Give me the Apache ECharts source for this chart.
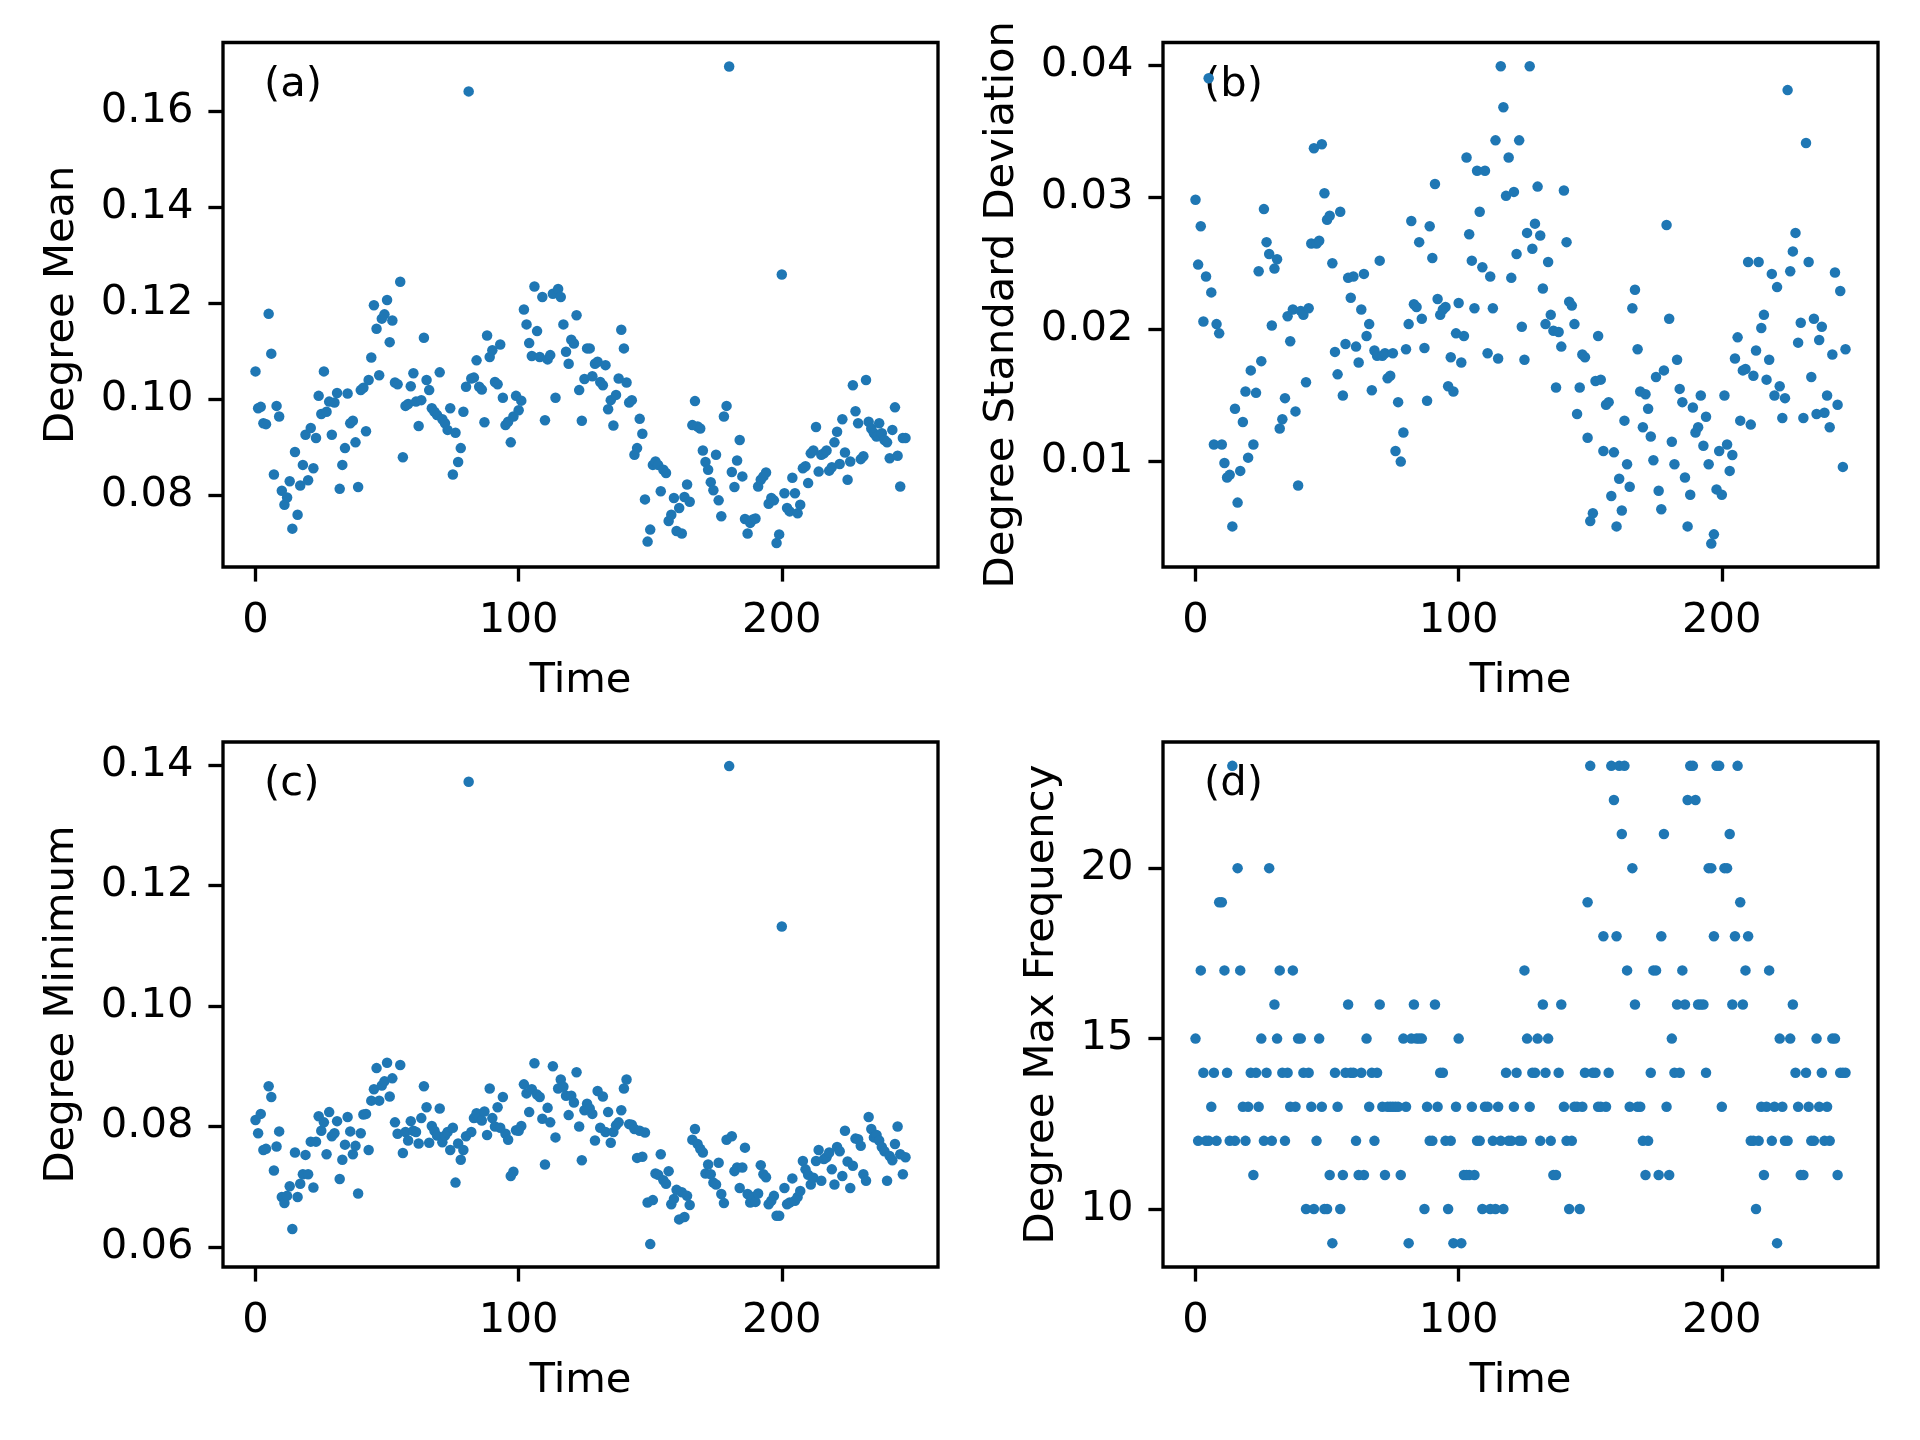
<!DOCTYPE html>
<html>
<head>
<meta charset="utf-8">
<title>Degree statistics over time</title>
<script src="https://cdn.jsdelivr.net/npm/echarts@6/dist/echarts.min.js"></script>
<style>
  html, body { margin: 0; padding: 0; background: #fff; }
  #chart { width: 1920px; height: 1440px; }
</style>
</head>
<body>
<div id="chart"></div>
<script>
// one value per time step, t = 0 .. 247
const degreeMean = [
  0.1058, 0.0981, 0.0984, 0.0950, 0.0948, 0.1178, 0.1095, 0.0843, 0.0986, 0.0964,
  0.0809, 0.0780, 0.0795, 0.0829, 0.0730, 0.0890, 0.0759, 0.0820, 0.0863, 0.0926,
  0.0831, 0.0940, 0.0856, 0.0919, 0.1007, 0.0969, 0.1058, 0.0974, 0.0995, 0.0926,
  0.0993, 0.1013, 0.0813, 0.0863, 0.0898, 0.1012, 0.0950, 0.0955, 0.0910, 0.0817,
  0.1019, 0.1024, 0.0933, 0.1040, 0.1087, 0.1196, 0.1147, 0.1050, 0.1168, 0.1177,
  0.1207, 0.1119, 0.1164, 0.1035, 0.1031, 0.1245, 0.0879, 0.0986, 0.0990, 0.1027,
  0.1054, 0.0995, 0.0944, 0.0998, 0.1128, 0.1040, 0.1019, 0.0981, 0.0974, 0.0967,
  0.1056, 0.0958, 0.0950, 0.0936, 0.0981, 0.0843, 0.0930, 0.0869, 0.0898, 0.0974,
  0.1026, 0.1642, 0.1043, 0.1045, 0.1081, 0.1026, 0.1020, 0.0952, 0.1133, 0.1088,
  0.1102, 0.1036, 0.1031, 0.1114, 0.1003, 0.0946, 0.0953, 0.0910, 0.0964, 0.1007,
  0.0977, 0.0997, 0.1187, 0.1156, 0.1117, 0.1090, 0.1235, 0.1142, 0.1088, 0.1213,
  0.0956, 0.1083, 0.1092, 0.1220, 0.1003, 0.1230, 0.1213, 0.1156, 0.1099, 0.1074,
  0.1124, 0.1116, 0.1175, 0.1019, 0.0955, 0.1042, 0.1106, 0.1106, 0.1048, 0.1074,
  0.1078, 0.1036, 0.1029, 0.1071, 0.0979, 0.0998, 0.0945, 0.1009, 0.1043, 0.1145,
  0.1106, 0.1035, 0.0993, 0.0998, 0.0884, 0.0898, 0.0959, 0.0928, 0.0791, 0.0703,
  0.0728, 0.0863, 0.0870, 0.0863, 0.0808, 0.0853, 0.0846, 0.0746, 0.0759, 0.0794,
  0.0725, 0.0773, 0.0720, 0.0796, 0.0822, 0.0786, 0.0946, 0.0996, 0.0943, 0.0939,
  0.0893, 0.0869, 0.0853, 0.0827, 0.0810, 0.0884, 0.0789, 0.0756, 0.0964, 0.0986,
  0.1694, 0.0848, 0.0817, 0.0872, 0.0915, 0.0839, 0.0750, 0.0720, 0.0742, 0.0749,
  0.0751, 0.0818, 0.0832, 0.0839, 0.0847, 0.0782, 0.0794, 0.0789, 0.0700, 0.0718,
  0.1260, 0.0804, 0.0773, 0.0766, 0.0836, 0.0804, 0.0762, 0.0780, 0.0856, 0.0860,
  0.0825, 0.0887, 0.0893, 0.0942, 0.0849, 0.0884, 0.0887, 0.0893, 0.0851, 0.0858,
  0.0910, 0.0932, 0.0865, 0.0958, 0.0889, 0.0832, 0.0870, 0.1029, 0.0975, 0.0950,
  0.0875, 0.0881, 0.1040, 0.0953, 0.0939, 0.0929, 0.0922, 0.0950, 0.0929, 0.0915,
  0.0910, 0.0877, 0.0936, 0.0983, 0.0882, 0.0818, 0.0919, 0.0919
];
const degreeStd = [
  0.0298, 0.0249, 0.0278, 0.0206, 0.0240, 0.0390, 0.0228, 0.0113, 0.0204, 0.0197,
  0.0113, 0.0099, 0.0088, 0.0090, 0.0051, 0.0140, 0.0069, 0.0093, 0.0130, 0.0153,
  0.0103, 0.0169, 0.0113, 0.0152, 0.0244, 0.0176, 0.0291, 0.0266, 0.0257, 0.0203,
  0.0246, 0.0253, 0.0125, 0.0132, 0.0148, 0.0210, 0.0191, 0.0215, 0.0138, 0.0082,
  0.0214, 0.0211, 0.0160, 0.0216, 0.0265, 0.0337, 0.0265, 0.0267, 0.0340, 0.0303,
  0.0283, 0.0286, 0.0250, 0.0183, 0.0166, 0.0289, 0.0150, 0.0189, 0.0239, 0.0224,
  0.0240, 0.0187, 0.0175, 0.0215, 0.0242, 0.0195, 0.0204, 0.0154, 0.0184, 0.0180,
  0.0252, 0.0180, 0.0182, 0.0163, 0.0165, 0.0182, 0.0108, 0.0145, 0.0100, 0.0122,
  0.0185, 0.0204, 0.0282, 0.0219, 0.0217, 0.0266, 0.0208, 0.0186, 0.0146, 0.0278,
  0.0254, 0.0310, 0.0223, 0.0211, 0.0215, 0.0217, 0.0157, 0.0179, 0.0153, 0.0197,
  0.0220, 0.0175, 0.0195, 0.0330, 0.0272, 0.0252, 0.0216, 0.0320, 0.0289, 0.0247,
  0.0320, 0.0182, 0.0240, 0.0216, 0.0343, 0.0178, 0.0399, 0.0368, 0.0301, 0.0330,
  0.0239, 0.0304, 0.0257, 0.0343, 0.0202, 0.0177, 0.0273, 0.0399, 0.0261, 0.0280,
  0.0308, 0.0271, 0.0231, 0.0204, 0.0251, 0.0211, 0.0199, 0.0156, 0.0198, 0.0187,
  0.0305, 0.0266, 0.0221, 0.0218, 0.0204, 0.0136, 0.0156, 0.0181, 0.0179, 0.0118,
  0.0055, 0.0061, 0.0161, 0.0195, 0.0162, 0.0108, 0.0143, 0.0145, 0.0074, 0.0107,
  0.0051, 0.0087, 0.0063, 0.0131, 0.0098, 0.0081, 0.0216, 0.0230, 0.0185, 0.0153,
  0.0126, 0.0151, 0.0140, 0.0119, 0.0101, 0.0164, 0.0078, 0.0064, 0.0169, 0.0279,
  0.0208, 0.0115, 0.0098, 0.0177, 0.0155, 0.0145, 0.0088, 0.0051, 0.0075, 0.0141,
  0.0122, 0.0126, 0.0150, 0.0112, 0.0134, 0.0098, 0.0038, 0.0045, 0.0079, 0.0108,
  0.0075, 0.0150, 0.0113, 0.0093, 0.0105, 0.0178, 0.0194, 0.0131, 0.0169, 0.0170,
  0.0251, 0.0128, 0.0165, 0.0184, 0.0251, 0.0201, 0.0211, 0.0162, 0.0177, 0.0242,
  0.0150, 0.0232, 0.0157, 0.0133, 0.0148, 0.0381, 0.0244, 0.0259, 0.0273, 0.0190,
  0.0205, 0.0133, 0.0341, 0.0251, 0.0164, 0.0208, 0.0136, 0.0192, 0.0202, 0.0137,
  0.0150, 0.0126, 0.0181, 0.0243, 0.0143, 0.0229, 0.0096, 0.0185
];
const degreeMin = [
  0.0811, 0.0789, 0.0821, 0.0761, 0.0763, 0.0867, 0.0849, 0.0727, 0.0767, 0.0792,
  0.0683, 0.0673, 0.0685, 0.0701, 0.0630, 0.0757, 0.0683, 0.0705, 0.0721, 0.0753,
  0.0721, 0.0775, 0.0699, 0.0775, 0.0817, 0.0793, 0.0807, 0.0754, 0.0824, 0.0784,
  0.0789, 0.0809, 0.0713, 0.0745, 0.0770, 0.0816, 0.0792, 0.0754, 0.0768, 0.0689,
  0.0789, 0.0820, 0.0821, 0.0761, 0.0843, 0.0862, 0.0897, 0.0843, 0.0868, 0.0875,
  0.0906, 0.0850, 0.0880, 0.0807, 0.0788, 0.0902, 0.0756, 0.0791, 0.0777, 0.0809,
  0.0793, 0.0791, 0.0772, 0.0814, 0.0867, 0.0832, 0.0773, 0.0801, 0.0793, 0.0785,
  0.0830, 0.0774, 0.0785, 0.0791, 0.0761, 0.0798, 0.0707, 0.0772, 0.0745, 0.0761,
  0.0784, 0.1372, 0.0791, 0.0814, 0.0822, 0.0814, 0.0810, 0.0825, 0.0786, 0.0863,
  0.0814, 0.0800, 0.0832, 0.0798, 0.0849, 0.0788, 0.0778, 0.0718, 0.0725, 0.0794,
  0.0793, 0.0801, 0.0870, 0.0855, 0.0824, 0.0862, 0.0905, 0.0853, 0.0849, 0.0813,
  0.0737, 0.0831, 0.0807, 0.0900, 0.0782, 0.0863, 0.0878, 0.0866, 0.0851, 0.0819,
  0.0851, 0.0840, 0.0890, 0.0800, 0.0744, 0.0827, 0.0838, 0.0830, 0.0821, 0.0777,
  0.0859, 0.0798, 0.0850, 0.0791, 0.0824, 0.0773, 0.0791, 0.0802, 0.0807, 0.0827,
  0.0863, 0.0878, 0.0804, 0.0803, 0.0796, 0.0748, 0.0793, 0.0750, 0.0790, 0.0674,
  0.0605, 0.0678, 0.0722, 0.0720, 0.0754, 0.0711, 0.0705, 0.0726, 0.0671, 0.0680,
  0.0695, 0.0646, 0.0691, 0.0650, 0.0685, 0.0670, 0.0778, 0.0796, 0.0771, 0.0763,
  0.0757, 0.0722, 0.0737, 0.0721, 0.0707, 0.0704, 0.0740, 0.0688, 0.0673, 0.0778,
  0.1398, 0.0784, 0.0726, 0.0732, 0.0698, 0.0732, 0.0765, 0.0688, 0.0674, 0.0683,
  0.0675, 0.0689, 0.0736, 0.0721, 0.0716, 0.0671, 0.0677, 0.0685, 0.0652, 0.0652,
  0.1132, 0.0698, 0.0671, 0.0674, 0.0714, 0.0677, 0.0683, 0.0693, 0.0743, 0.0729,
  0.0720, 0.0704, 0.0715, 0.0743, 0.0761, 0.0710, 0.0746, 0.0749, 0.0757, 0.0729,
  0.0704, 0.0766, 0.0759, 0.0718, 0.0793, 0.0742, 0.0698, 0.0735, 0.0780, 0.0779,
  0.0768, 0.0721, 0.0710, 0.0816, 0.0796, 0.0782, 0.0786, 0.0777, 0.0766, 0.0759,
  0.0710, 0.0751, 0.0744, 0.0771, 0.0800, 0.0754, 0.0721, 0.0749
];
const degreeMaxFreq = [
  15, 12, 17, 14, 12, 12, 13, 14, 12, 19,
  19, 17, 14, 12, 23, 12, 20, 17, 13, 12,
  13, 14, 11, 14, 13, 15, 12, 14, 20, 12,
  16, 15, 17, 14, 12, 14, 13, 17, 13, 15,
  15, 14, 10, 14, 13, 10, 12, 15, 13, 10,
  10, 11, 9, 14, 13, 10, 11, 14, 16, 14,
  14, 12, 11, 14, 11, 15, 13, 14, 12, 14,
  16, 13, 11, 13, 13, 13, 13, 13, 11, 15,
  13, 9, 15, 16, 15, 15, 15, 10, 13, 12,
  12, 16, 13, 14, 14, 12, 10, 12, 9, 13,
  15, 9, 11, 11, 11, 13, 11, 12, 12, 10,
  13, 13, 10, 12, 10, 13, 12, 10, 14, 12,
  12, 13, 14, 12, 12, 17, 15, 13, 14, 14,
  15, 12, 16, 14, 15, 12, 11, 11, 14, 16,
  13, 12, 10, 12, 13, 13, 10, 13, 14, 19,
  23, 14, 14, 13, 13, 18, 13, 14, 23, 22,
  18, 23, 21, 23, 17, 13, 20, 16, 13, 13,
  12, 11, 12, 14, 17, 17, 11, 18, 21, 13,
  11, 15, 14, 16, 14, 17, 16, 22, 23, 23,
  22, 16, 16, 16, 14, 20, 20, 18, 23, 23,
  13, 20, 20, 21, 16, 18, 23, 19, 16, 17,
  18, 12, 12, 10, 12, 13, 11, 13, 17, 12,
  13, 9, 15, 13, 12, 12, 15, 16, 14, 13,
  11, 11, 14, 13, 12, 12, 15, 13, 14, 12,
  13, 12, 15, 15, 11, 14, 14, 14
];

const timeTicks = [0, 100, 200];
const meanTicks = [0.08, 0.10, 0.12, 0.14, 0.16];
const stdTicks = [0.01, 0.02, 0.03, 0.04];
const minTicks = [0.06, 0.08, 0.10, 0.12, 0.14];
const freqTicks = [10, 15, 20];

const font = 'DejaVu Sans';
const fontSize = 41.7;
const lineW = 3.33;
const textStyle = { fontFamily: font, fontSize: fontSize, color: '#000' };

const panels = [
  { values: degreeMean, ticks: meanTicks, digits: 2, min: 0.0650, max: 0.1744,
    name: 'Degree Mean', nameGap: 140, tag: '(a)', left: 223, top: 42.5, height: 524.5 },
  { values: degreeStd, ticks: stdTicks, digits: 2, min: 0.00203, max: 0.04170,
    name: 'Degree Standard Deviation', nameGap: 140, tag: '(b)', left: 1163, top: 42.5, height: 524.5 },
  { values: degreeMin, ticks: minTicks, digits: 2, min: 0.0567, max: 0.1438,
    name: 'Degree Minimum', nameGap: 140, tag: '(c)', left: 223, top: 742, height: 525 },
  { values: degreeMaxFreq, ticks: freqTicks, digits: 0, min: 8.3, max: 23.7,
    name: 'Degree Max Frequency', nameGap: 100, tag: '(d)', left: 1163, top: 742, height: 525 }
];

const tick = {
  show: true,
  inside: false,
  length: 14.6,
  lineStyle: { color: '#000', width: lineW }
};
// frame comes from the grid border; keep the axes on the grid edge
const hiddenLine = { show: false, onZero: false };

const chart = echarts.init(document.getElementById('chart'), null, { renderer: 'canvas' });
const option = {
  animation: false,
  backgroundColor: '#fff',
  grid: panels.map(p => ({
    left: p.left,
    top: p.top,
    width: 715,
    height: p.height,
    show: true,
    borderColor: '#000',
    borderWidth: lineW,
    backgroundColor: 'transparent'
  })),
  xAxis: panels.map((p, i) => ({
    type: 'value',
    gridIndex: i,
    min: -12.35,
    max: 259.35,
    axisLine: hiddenLine,
    axisTick: { ...tick, customValues: timeTicks },
    axisLabel: { ...textStyle, margin: 33, customValues: timeTicks },
    splitLine: { show: false },
    name: 'Time',
    nameLocation: 'middle',
    nameGap: 93,
    nameTextStyle: textStyle
  })),
  yAxis: panels.map((p, i) => ({
    type: 'value',
    gridIndex: i,
    min: p.min,
    max: p.max,
    axisLine: hiddenLine,
    axisTick: { ...tick, customValues: p.ticks },
    axisLabel: {
      ...textStyle,
      margin: 29.5,
      customValues: p.ticks,
      formatter: v => v.toFixed(p.digits)
    },
    splitLine: { show: false },
    name: p.name,
    nameLocation: 'middle',
    nameRotate: 90,
    nameGap: p.nameGap,
    nameTextStyle: textStyle
  })),
  series: panels.map((p, i) => ({
    type: 'scatter',
    xAxisIndex: i,
    yAxisIndex: i,
    symbol: 'circle',
    symbolSize: 10.5,
    itemStyle: { color: '#1f77b4', opacity: 1 },
    emphasis: { disabled: true },
    data: p.values.map((v, t) => [t, v])
  })),
  graphic: panels.map(p => ({
    type: 'text',
    x: p.left + 41,
    y: p.top + 42.5,
    style: {
      text: p.tag,
      fontFamily: font,
      fontSize: fontSize,
      fill: '#000',
      verticalAlign: 'middle'
    }
  }))
};
chart.setOption(option);
</script>
</body>
</html>
